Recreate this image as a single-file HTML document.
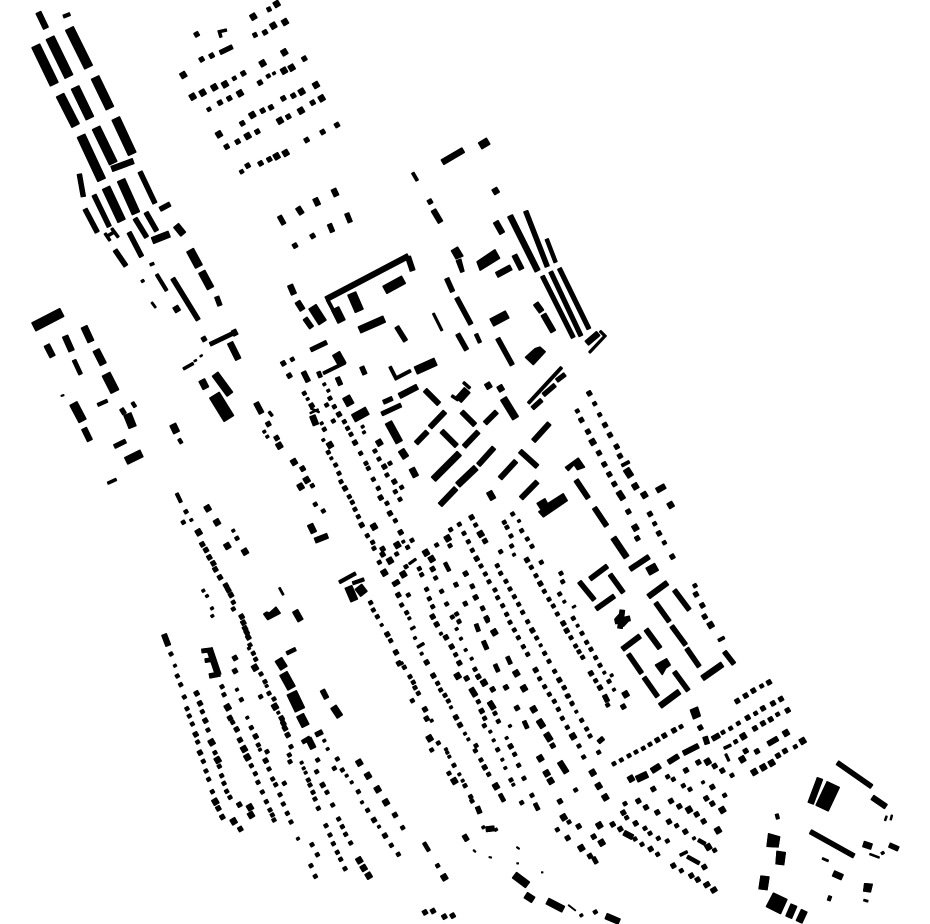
<!DOCTYPE html>
<html><head><meta charset="utf-8"><style>
html,body{margin:0;padding:0;background:#fff}
svg{display:block}
.a{stroke-width:8;transform:translate(-4px,2.5px)}
.b{stroke-width:11;transform:translate(-5px,3px)}
.c{stroke-width:14;transform:translate(-6px,3.5px)}
.d{stroke-width:18;transform:translate(-7.5px,4.5px)}
.t{stroke-width:12;transform:translate(-3px,-6px)}
.f{fill:#000;stroke:none}
</style></head><body>
<svg width="930" height="924" viewBox="0 0 930 924" fill="none" stroke="#000">
<rect width="930" height="924" fill="#fff" stroke="none"/>
<defs><g id="m">

<g transform="translate(20 0) scale(.33333)">
<path stroke-width="27" d="M47 137 103 253M90 113 147 230M148 85 206 202"/>
<path stroke-width="26" d="M120 285 167 377M165 262 210 355M225 232 270 325M183 407 245 540M228 383 280 490M287 355 337 462"/>
<path stroke-width="25" d="M258 563 305 663M303 540 348 640"/>
<path stroke-width="17" d="M55 37 78 85M275 507 340 483"/>
<path stroke-width="14" d="M178 522 190 590M222 585 268 680M360 515 405 610M195 627 232 697M345 655 380 712M378 637 410 693M327 697 365 770M285 750 318 798M458 835 535 960M590 890 600 917M420 628 450 612"/>
<path stroke-width="20" d="M397 722 448 702M468 676 490 703"/>
<path stroke-width="24" d="M510 750 537 800"/>
<path stroke-width="22" d="M545 815 572 865"/>
<path stroke-width="10" d="M410 823 440 872M130 50 150 42"/>
<path stroke-width="8" d="M255 700 270 722M275 685 295 712M262 708 285 695M603 112 598 95 620 90M390 795 402 790"/>
<path stroke-width="13" d="M600 158 637 140"/>
<path class="d" d="M770 12l15-9M700 50l15-9M795 66l15-9M760 77l15-9M490 225l15-9M793 157l15-9M728 190l15-9M815 203l15-9M792 212l15-9M615 253l15-9M583 262l15-9M548 278l15-9M518 290l15-9M888 255l15-9M845 275l15-9M660 280l15-9M905 295l15-9M843 332l15-9M780 362l15-9M697 345l15-9M597 403l15-9M683 408l15-9M797 459l15-9M770 469l15-9"/>
<path class="c" d="M735 97l12-7M575 167l12-7M545 178l12-7M853 176l12-7M720 248l12-7M670 220l12-7M820 287l12-7M790 295l12-7M628 295l12-7M600 308l12-7M878 308l12-7M805 350l12-7M753 322l12-7M728 332l12-7M667 370l12-7M712 395l12-7M653 425l12-7M620 440l12-7M908 396l12-7M860 420l12-7M748 478l12-7M722 490l12-7M683 497l12-7M530 103l12-7M951 375l12-7"/>
<path class="b" d="M643 235l10-6M567 328l10-6M665 515l10-6M745 228l10-6"/>
<path class="a" d="M368 843l8-5M762 220l8-5"/>
<path class="t" d="M747 28l6 12M705 105l6 12"/>
</g>

<g transform="translate(270 130) scale(.33333)">
<path stroke-width="17" d="M517 97 580 60M720 257 803 423M677 275 697 310M820 553 850 605M797 520 815 545M680 435 723 412"/>
<path stroke-width="22" d="M630 48 655 33"/>
<path stroke-width="9" d="M428 128 442 152"/>
<path stroke-width="16" d="M490 240 512 277M733 375 755 418"/>
<path stroke-width="14" d="M767 243 832 410M530 445 548 485M560 503 603 583M563 612 590 660M683 625 727 705M380 590 407 633"/>
<path stroke-width="11" d="M830 327 857 397M618 612 630 638"/>
<path stroke-width="13" d="M817 438 910 623M842 425 933 618M868 415 957 597M122 660 170 637"/>
<path class="f" d="M620 395 675 358 690 385 630 422ZM543 362 563 350 580 378 558 388ZM558 392 573 386 583 424 572 428Z"/>
<path stroke-width="7" d="M490 550 516 602"/>
<path stroke-width="25" d="M665 578 712 553"/>
<path class="f" d="M765 682 795 655 810 650 827 665 790 705Z"/>
<path stroke-width="17" d="M950 640 985 610"/>
<path stroke-width="7" d="M958 668 1005 618 990 603"/>
<path stroke-width="16" d="M168 508 415 378"/>
<path stroke-width="16" d="M414 380 428 422"/>
<path stroke-width="9" d="M172 508 205 570"/>
<path stroke-width="25" d="M195 535 215 575"/>
<path stroke-width="27" d="M245 490 268 543M127 530 158 578"/>
<path stroke-width="26" d="M344 480 401 449"/>
<path stroke-width="17" d="M60 465 72 493M82 515 98 540"/>
<path stroke-width="15" d="M105 565 125 593M100 725 115 755"/>
<path stroke-width="21" d="M268 600 343 567"/>
<path stroke-width="9" d="M160 730 225 698"/>
<path stroke-width="25" d="M198 670 218 705"/>
<path stroke-width="9" d="M360 710 378 745 422 722"/>
<path stroke-width="24" d="M437 722 497 695"/>
<path stroke-width="14" d="M275 710 285 733M202 742 212 765"/>
<path stroke-width="12" d="M145 725 152 742"/>
<path stroke-width="24" d="M565 810 592 780"/>
<path stroke-width="8" d="M545 797 565 810M580 757 600 775"/>
<path stroke-width="9" d="M775 820 875 712"/>
<path stroke-width="13" d="M820 795 855 765M860 752 885 733M787 835 815 810"/>
<path stroke-width="14" d="M28 258 42 283M230 250 241 277M178 282 188 306"/>
<path stroke-width="16" d="M83 232 96 252M135 205 145 226M190 177 200 198"/>
<path class="d" d="M677 183l15-9M655 767l15-9M692 775l15-9"/>
<path class="c" d="M75 347l12-7M128 318l12-7M480 215l12-7M40 700l12-7M58 737l12-7"/>
<path class="b" d="M67 688l10-6"/>
</g>

<g transform="translate(20 300) scale(.33333)">
<path stroke-width="28" d="M41 81 126 37"/>
<path stroke-width="18" d="M80 135 98 170M135 108 155 153M630 128 655 178"/>
<path stroke-width="20" d="M192 80 213 125M458 373 470 398M545 240 558 265"/>
<path stroke-width="21" d="M228 150 250 193"/>
<path stroke-width="12" d="M162 180 182 223M570 133 645 97"/>
<path stroke-width="27" d="M258 222 285 275"/>
<path stroke-width="25" d="M160 310 188 363"/>
<path stroke-width="17" d="M192 385 210 422"/>
<path stroke-width="10" d="M233 315 262 302M477 417 485 430M470 580 483 607M337 307 346 321"/>
<path stroke-width="4" d="M123 288 132 285"/>
<path stroke-width="13" d="M304 326 314 342M283 440 317 423"/>
<path stroke-width="24" d="M322 342 338 382"/>
<path stroke-width="23" d="M318 483 365 460"/>
<path stroke-width="8" d="M263 550 289 538M490 207 520 190"/>
<path stroke-width="15" d="M640 90 648 106"/>
<path stroke-width="5" d="M522 184 530 180M540 170 547 165"/>
<path stroke-width="22" d="M585 222 630 283"/>
<path stroke-width="35" d="M583 285 627 356"/>
<path stroke-width="6" d="M395 7 407 23M778 863 790 885"/>
<path stroke-width="16" d="M708 308 725 340"/>
<path stroke-width="8" d="M747 335 757 348"/>
<path class="d" d="M470 27l15-9M778 437l15-9M563 625l15-9M591 667l15-9M536 697l15-9M622 738l15-9M675 755l15-9M860 540l15-9M822 486l15-9M842 560l15-9"/>
<path class="c" d="M552 117l12-7M745 372l12-7M770 414l12-7M848 506l12-7M547 733l12-7M558 750l12-7M568 772l12-7M580 790l12-7M600 832l12-7M618 857l12-7M633 885l12-7M586 808l12-7M625 870l12-7"/>
<path class="b" d="M498 635l10-6M490 667l10-6M651 715l10-6"/>
<path class="a" d="M733 395l8-5M742 410l8-5M514 660l8-5M640 692l8-5M550 872l8-5M561 888l8-5"/>
</g>

<g transform="translate(290 370) scale(.33333)">
<path stroke-width="22" d="M295 157 328 217"/>
<path stroke-width="15" d="M405 60 447 102M420 172 465 125M378 220 412 185M455 183 500 228M522 230 565 185M515 125 555 165M585 160 620 125M730 213 778 160M565 285 612 233M630 325 678 273M690 243 742 290M693 385 742 335"/>
<path stroke-width="21" d="M640 85 677 145"/>
<path stroke-width="19" d="M430 328 508 250M503 345 558 293"/>
<path stroke-width="16" d="M450 405 498 355"/>
<path class="f" d="M740 400 765 385 773 400 820 370 833 392 760 442 745 425 753 420Z"/>
<path stroke-width="25" d="M190 145 232 122"/>
<path stroke-width="13" d="M275 132 333 105M280 97 307 85"/>
<path stroke-width="17" d="M328 78 382 50"/>
<path stroke-width="24" d="M168 80 182 105"/>
<path stroke-width="18" d="M60 463 72 488M365 295 378 320M597 365 610 388"/>
<path stroke-width="16" d="M75 512 113 497"/>
<path stroke-width="20" d="M333 240 348 263"/>
<path stroke-width="5" d="M60 130 85 118M62 115 88 127"/>
<path stroke-width="18" d="M67 137 78 165"/>
<path stroke-width="10" d="M148 637 197 610M188 640 222 628"/>
<path stroke-width="23" d="M175 650 193 692"/>
<path stroke-width="26" d="M205 650 222 672"/>
<path class="d" d="M268 218l15-9M120 225l15-9M252 470l15-9M322 525l15-9M300 572l15-9M283 608l15-9M408 548l15-9M425 567l15-9M473 505l15-9M572 492l15-9M340 613l15-9"/>
<path class="c" d="M65 107l12-7M165 355l12-7M215 465l12-7M300 430l12-7M332 487l12-7M12 275l12-7M38 296l12-7M50 330l12-7M30 348l12-7M147 133l12-7M195 218l12-7M283 290l12-7M313 335l12-7M272 383l12-7M278 553l12-7M325 675l12-7M315 641l18-11M527 611l12-7M557 682l12-7M590 745l12-7M428 740l12-7M560 566l12-7M428 597l12-7M711 570l12-7M751 641l12-7M545 442l12-7M585 513l12-7M278 537l12-7"/>
<path class="b" d="M43 70l10-6M103 178l10-6M115 247l10-6M137 285l10-6M147 310l10-6M153 335l10-6M178 380l10-6M187 397l10-6M195 418l10-6M205 440l10-6M232 497l10-6M248 517l10-6M252 535l10-6M120 85l10-6M110 105l10-6M133 110l10-6M130 153l10-6M163 155l10-6M173 175l10-6M183 193l10-6M212 250l10-6M228 280l10-6M235 295l10-6M255 243l10-6M267 267l10-6M291 315l10-6M335 352l10-6M316 365l10-6M250 328l10-6M265 355l10-6M291 400l10-6M330 388l10-6M316 452l10-6M366 511l10-6M353 532l10-6M320 552l10-6M268 577l10-6M67 347l10-6M76 403l10-6M100 423l10-6M557 465l10-6M508 463l10-6M482 479l10-6M480 527l10-6M522 490l10-6M535 515l10-6M547 541l10-6M573 588l10-6M586 612l10-6M597 635l10-6M615 660l10-6M623 683l10-6M638 707l10-6M650 733l10-6M440 525l10-6M437 624l10-6M388 596l10-6M395 614l10-6M348 590l10-6M355 675l10-6M335 705l10-6M350 728l10-6M455 664l10-6M410 658l10-6M418 686l10-6M470 702l10-6M428 710l10-6M622 587l10-6M632 610l10-6M648 634l10-6M660 657l10-6M673 680l10-6M686 703l10-6M698 727l10-6M632 545l10-6M668 432l10-6M643 457l10-6M651 472l10-6M663 498l10-6M695 482l10-6M712 507l10-6M726 529l10-6M665 528l10-6M724 592l10-6M738 617l10-6M763 664l10-6M777 688l10-6M790 708l10-6M802 732l10-6M754 577l10-6M809 672l10-6M500 732l10-6M487 741l10-6M300 280l10-6"/>
<path class="a" d="M53 87l8-5M95 160l8-5M100 210l8-5M124 265l8-5M103 43l8-5M115 62l8-5M218 170l8-5M222 187l8-5M340 515l8-5M687 453l8-5M672 554l8-5M507 752l8-5M358 745l8-5"/>
<path class="t" d="M498 644l6 12M526 701l6 12M578 715l6 12M547 649l6 12"/>
<path stroke-width="7" d="M357 582 378 567"/>
<path stroke-width="11" d="M465 578 478 603"/>
</g>

<g transform="translate(560 380) scale(.33333)">
<path stroke-width="15" d="M48 300 85 355M103 383 140 438M210 568 267 530M187 808 240 768M258 748 300 805"/>
<path stroke-width="18" d="M160 473 200 532"/>
<path stroke-width="25" d="M263 575 290 560"/>
<path stroke-width="14" d="M90 597 142 558M150 583 190 638M58 605 103 660M108 687 163 648M343 630 388 690M287 668 328 725M335 738 377 795M380 805 418 860M493 815 522 852M205 822 245 880M252 892 293 950M343 875 385 932"/>
<path stroke-width="16" d="M265 650 322 608"/>
<path stroke-width="17" d="M427 895 487 853M300 978 358 935"/>
<path stroke-width="9" d="M475 782 493 772"/>
<path class="f" d="M285 855 320 835 332 855 318 865 307 885ZM15 262 55 233 75 262 52 270 42 255 25 273Z"/>
<path stroke-width="15" d="M187 690 180 745M165 725 210 715"/>
<path stroke-width="22" d="M172 708 198 732"/>
<path stroke-width="9" d="M185 257 208 245"/>
<path stroke-width="20" d="M198 267 213 290"/>
<path stroke-width="16" d="M290 332 315 318"/>
<path stroke-width="17" d="M175 335 190 358"/>
<path stroke-width="6" d="M37 683 47 677"/>
<path stroke-width="14" d="M133 945 143 965"/>
<path class="d" d="M226 319l15-9M253 345l15-9M332 375l15-9M98 186l15-9M226 443l15-9M452 735l15-9M197 943l15-9"/>
<path class="c" d="M88 40l12-7M135 135l12-7M150 165l12-7M170 200l12-7M180 228l12-7M64 120l12-7M84 155l12-7M117 219l12-7M133 253l12-7M148 283l12-7M163 312l12-7M205 395l12-7M232 475l12-7M270 402l12-7M297 460l12-7M337 530l12-7M408 643l12-7M427 676l12-7M434 710l12-7M10 730l12-7M20 752l12-7M93 880l12-7M120 923l12-7M190 980l12-7"/>
<path class="b" d="M104 71l10-6M119 104l10-6M52 93l10-6M284 431l10-6M313 488l10-6M405 617l10-6M3 580l10-6M8 605l10-6M40 715l10-6M66 760l10-6M80 787l10-6M93 808l10-6M107 833l10-6M120 856l10-6M147 904l10-6M33 773l10-6M47 798l10-6M57 815l10-6M68 832l10-6M107 902l10-6M143 975l10-6M12 923l10-6M22 948l10-6M36 970l10-6"/>
<path class="a" d="M13 665l8-5M53 737l8-5M133 878l8-5M155 886l8-5M162 929l8-5"/>
</g>

<g transform="translate(150 600) scale(.33333)">
<path class="f" d="M340 42 350 35 358 38 378 20 392 40 353 60Z"/>
<path stroke-width="16" d="M42 103 55 137"/>
<path stroke-width="18" d="M178 145 205 225"/>
<path stroke-width="12" d="M155 153 180 150M165 182 190 178"/>
<path stroke-width="14" d="M178 228 210 222M497 405 517 395"/>
<path stroke-width="18" d="M435 32 452 62"/>
<path stroke-width="11" d="M410 160 437 147"/>
<path stroke-width="24" d="M385 178 402 205M450 345 467 378"/>
<path stroke-width="26" d="M400 220 425 265"/>
<path stroke-width="32" d="M425 278 450 330"/>
<path stroke-width="15" d="M517 270 530 295"/>
<path stroke-width="20" d="M550 320 570 350"/>
<path stroke-width="12" d="M457 427 480 413"/>
<path stroke-width="18" d="M475 415 490 445"/>
<path class="d" d="M233 322l15-9M196 605l15-9M251 664l15-9M282 447l15-9M292 472l15-9M185 427l15-9M203 480l15-9M315 203l15-9M375 320l15-9M300 622l15-9M303 645l15-9M628 488l15-9M654 527l15-9M683 568l15-9M708 607l15-9M628 781l15-9M641 804l15-9M656 827l15-9"/>
<path class="c" d="M137 403l12-7M150 458l12-7M140 280l12-7M150 310l12-7M166 362l12-7M205 625l12-7M217 651l12-7M271 687l12-7M268 614l12-7M260 388l12-7M270 420l12-7M240 354l12-7M317 409l12-7M347 482l12-7M255 174l12-7M255 213l12-7M735 645l12-7M705 707l12-7M672 660l12-7M518 555l12-7M712 103l12-7M738 157l12-7M747 190l12-7M275 50l12-7M280 68l12-7M285 85l12-7M290 97l12-7M295 112l12-7M395 355l12-7M400 370l12-7M405 385l12-7M413 405l12-7"/>
<path class="b" d="M250 7l10-6M250 27l10-6M300 135l10-6M310 160l10-6M317 178l10-6M333 222l10-6M345 245l10-6M357 280l10-6M372 297l10-6M63 162l10-6M82 228l10-6M92 254l10-6M103 291l10-6M111 326l10-6M118 348l10-6M127 372l10-6M143 426l10-6M160 484l10-6M168 513l10-6M176 538l10-6M187 575l10-6M157 335l10-6M174 390l10-6M195 458l10-6M208 499l10-6M215 527l10-6M222 550l10-6M230 574l10-6M240 592l10-6M216 260l10-6M222 284l10-6M248 367l10-6M304 497l10-6M316 521l10-6M324 547l10-6M337 576l10-6M349 605l10-6M360 630l10-6M367 645l10-6M372 660l10-6M274 299l10-6M332 290l10-6M304 383l10-6M325 435l10-6M351 455l10-6M357 507l10-6M368 537l10-6M377 554l10-6M403 550l10-6M390 584l10-6M400 612l10-6M412 640l10-6M423 666l10-6M423 440l10-6M418 465l10-6M420 485l10-6M503 480l10-6M553 505l10-6M577 510l10-6M625 575l10-6M653 631l10-6M724 736l10-6M745 763l10-6M475 540l10-6M480 555l10-6M489 577l10-6M495 597l10-6M505 625l10-6M500 515l10-6M531 577l10-6M548 615l10-6M566 657l10-6M577 680l10-6M587 703l10-6M602 729l10-6M528 677l10-6M540 705l10-6M550 731l10-6M562 757l10-6M572 778l10-6M585 806l10-6M486 734l10-6M502 764l10-6M483 797l10-6M496 829l10-6M662 8l10-6M670 30l10-6M682 50l10-6M722 122l10-6M562 477l10-6"/>
<path class="a" d="M186 25l8-5M187 48l8-5M75 197l8-5M297 145l8-5M350 258l8-5M385 338l8-5M261 269l8-5M292 353l8-5M330 449l8-5M455 488l8-5M461 505l8-5M467 518l8-5M523 422l8-5M533 447l8-5M590 527l8-5M605 547l8-5M636 607l8-5M687 680l8-5M444 716l8-5M695 75l8-5"/>
</g>

<g transform="translate(400 620) scale(.33333)">
<path stroke-width="7" d="M32 28 45 20"/>
<path stroke-width="8" d="M52 82 72 70"/>
<path stroke-width="13" d="M250 63 261 88M595 367 610 354"/>
<path stroke-width="17" d="M479 425 500 458"/>
<path stroke-width="12" d="M285 133 295 155M322 110 332 132M372 303 382 325M300 522 312 544"/>
<path stroke-width="18" d="M416 300 430 322M438 340 452 362"/>
<path stroke-width="16" d="M268 245 282 267M213 205 227 228"/>
<path stroke-width="11" d="M72 668 87 693"/>
<path stroke-width="16" d="M258 628 283 625"/>
<path stroke-width="22" d="M343 765 383 795"/>
<path stroke-width="20" d="M377 825 400 840M442 843 490 868"/>
<path stroke-width="3" d="M505 855 527 872"/>
<path stroke-width="18" d="M618 888 658 905"/>
<path stroke-width="20" d="M710 478 742 463"/>
<path stroke-width="17" d="M755 453 780 437"/>
<path stroke-width="16" d="M672 638 698 652"/>
<path stroke-width="12" d="M405 550 415 570M228 12 236 34M580 712 590 730"/>
<path stroke-width="14" d="M192 645 202 662M232 560 240 580"/>
<path class="d" d="M173 168l15-9M252 188l15-9M283 37l15-9M349 160l15-9M372 205l15-9M401 268l15-9M421 415l15-9M440 460l15-9M452 483l15-9M519 349l15-9M578 458l15-9M596 498l15-9M616 532l15-9M491 592l15-9M598 616l15-9M605 668l15-9M544 684l15-9M89 355l15-9M163 483l15-9M288 499l15-9M133 772l15-9M693 476l15-9"/>
<path class="c" d="M80 127l12-7M100 167l12-7M168 292l12-7M180 315l12-7M254 442l12-7M75 268l12-7M80 296l12-7M110 13l12-7M138 52l12-7M155 80l12-7M178 129l12-7M200 175l12-7M235 170l12-7M278 208l12-7M318 202l12-7M245 273l12-7M332 379l12-7M351 264l12-7M397 31l12-7M407 150l12-7M478 180l12-7M480 544l12-7M536 619l12-7M503 654l12-7M581 650l12-7M570 708l12-7M458 377l12-7M638 613l12-7M661 627l12-7M760 507l12-7M715 543l12-7M738 562l12-7M670 578l12-7M707 610l12-7M752 687l12-7M772 577l12-7M75 877l12-7M99 873l12-7M133 890l12-7M158 887l12-7M772 360l12-7"/>
<path class="b" d="M113 190l10-6M122 210l10-6M135 226l10-6M145 243l10-6M228 377l10-6M226 392l10-6M243 420l10-6M266 463l10-6M30 170l10-6M40 187l10-6M45 203l10-6M55 220l10-6M37 242l10-6M13 142l10-6M115 369l10-6M95 390l10-6M162 436l10-6M147 460l10-6M195 497l10-6M212 530l10-6M216 543l10-6M167 104l10-6M177 5l10-6M225 148l10-6M235 245l10-6M254 295l10-6M253 317l10-6M293 389l10-6M333 480l10-6M372 475l10-6M356 436l10-6M344 403l10-6M295 304l10-6M285 280l10-6M262 2l10-6M330 7l10-6M343 30l10-6M355 53l10-6M370 80l10-6M383 103l10-6M383 5l10-6M410 54l10-6M434 100l10-6M447 124l10-6M419 176l10-6M434 200l10-6M448 223l10-6M463 244l10-6M475 268l10-6M487 295l10-6M502 322l10-6M537 378l10-6M551 411l10-6M464 154l10-6M493 203l10-6M505 228l10-6M545 301l10-6M560 327l10-6M570 348l10-6M596 397l10-6M527 510l10-6M396 526l10-6M365 548l10-6M507 606l10-6M472 629l10-6M642 431l10-6M664 420l10-6M687 407l10-6M708 396l10-6M730 385l10-6M750 373l10-6M675 551l10-6M680 593l10-6M735 625l10-6M750 640l10-6M775 655l10-6M705 657l10-6M726 673l10-6M773 703l10-6M8 623l10-6M113 737l10-6M586 876l10-6"/>
<path class="a" d="M45 54l8-5M65 101l8-5M153 262l8-5M195 341l8-5M205 358l8-5M5 130l8-5M95 302l8-5M138 388l8-5M142 398l8-5M148 410l8-5M178 463l8-5M188 482l8-5M123 41l8-5M170 27l8-5M183 56l8-5M197 90l8-5M215 116l8-5M271 335l8-5M281 361l8-5M307 419l8-5M316 444l8-5M340 494l8-5M320 354l8-5M330 318l8-5M422 76l8-5M516 253l8-5M529 275l8-5M250 622l8-5M288 629l8-5M544 886l8-5"/>
<path stroke-width="4" d="M220 690 227 696M350 681 358 687M267 711 275 713M350 730 356 730M424 757 429 757"/>
</g>

<g transform="translate(600 670) scale(.33333)">
<path stroke-width="14" d="M712 278 815 350M631 485 762 558"/>
<path stroke-width="16" d="M817 382 858 410"/>
<path stroke-width="18" d="M660 325 632 400"/>
<path stroke-width="42" d="M700 343 666 415"/>
<path stroke-width="5" d="M855 452 860 438M872 450 876 435M809 552 838 563"/>
<path stroke-width="14" d="M868 525 895 537"/>
<path stroke-width="6" d="M667 565 685 573M791 690 804 694"/>
<path stroke-width="18" d="M700 610 727 622M790 522 815 530"/>
<path stroke-width="10" d="M530 432 534 447M686 692 691 678"/>
<path class="f" d="M505 490 540 500 535 532 500 530ZM530 543 557 547 552 585 527 582ZM482 617 508 620 502 660 476 657ZM520 668 562 688 542 732 498 710ZM793 640 818 642 812 667 790 664ZM270 120 293 110 302 138 280 148Z"/>
<path stroke-width="20" d="M582 705 566 742M613 722 597 756"/>
<path stroke-width="15" d="M250 250 295 227M205 277 235 258M337 207 358 195M315 200 322 222M504 222 533 205"/>
<path stroke-width="8" d="M372 235 393 225M240 556 262 545"/>
<path stroke-width="7" d="M377 252 387 273"/>
<path stroke-width="11" d="M262 560 298 580M295 510 316 522"/>
<path class="d" d="M558 189l15-9M608 213l15-9M515 279l15-9M490 292l15-9M463 306l15-9M427 268l15-9M430 199l15-9M325 531l15-9M367 420l15-9M354 481l15-9M267 419l15-9M323 275l15-9"/>
<path class="c" d="M412 93l12-7M437 77l12-7M460 62l12-7M507 37l12-7M543 87l12-7M519 100l12-7M489 115l12-7M443 143l12-7M301 173l12-7M563 121l12-7M512 148l12-7M489 160l12-7M465 175l12-7M471 244l12-7M437 243l12-7M555 243l12-7M534 257l12-7M295 277l12-7M344 288l12-7M367 302l12-7M258 301l12-7M222 181l12-7M193 197l12-7M213 393l12-7M238 409l12-7M290 433l12-7M311 454l12-7M337 351l12-7M319 385l12-7M337 401l12-7M207 455l12-7M256 485l12-7M313 591l12-7M274 617l12-7M293 629l12-7M319 645l15-9M340 661l15-9M220 587l12-7"/>
<path class="b" d="M485 48l10-6M467 130l10-6M415 160l10-6M392 175l10-6M369 187l10-6M533 133l10-6M407 215l10-6M396 316l10-6M586 230l10-6M243 170l10-6M374 376l10-6M270 358l10-6M250 347l10-6M220 328l10-6M203 320l10-6M230 467l10-6M344 541l10-6M244 602l10-6M202 513l10-6"/>
<path class="a" d="M309 337l8-5M282 505l8-5M848 549l8-5"/>
</g>

</g></defs>
<use href="#m" x="-.33" y="-.33"/>
<use href="#m" x=".33" y="-.33"/>
<use href="#m" x="-.33" y=".33"/>
<use href="#m" x=".33" y=".33"/>
</svg>
</body></html>
